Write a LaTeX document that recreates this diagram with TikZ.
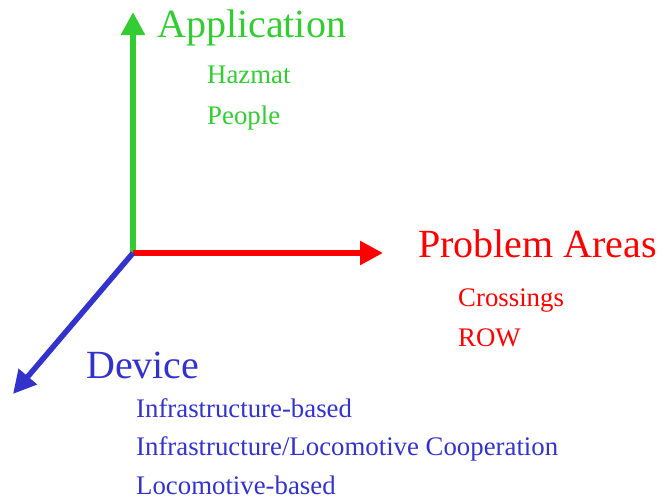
\documentclass[tikz,border=0pt]{standalone}
\usepackage{fontspec}
\setmainfont{Liberation Serif}
\usetikzlibrary{arrows.meta}
\definecolor{appgreen}{RGB}{51,204,51}
\definecolor{probred}{RGB}{255,0,0}
\definecolor{devblue}{RGB}{51,51,204}
\begin{document}
\begin{tikzpicture}[x=1pt,y=-1pt,
  axis/.style={line width=5.5pt,-{Triangle[length=23pt,width=23pt]}},
  bigtext/.style={anchor=base west,inner sep=0pt,font=\fontsize{40}{48}\selectfont},
  smalltext/.style={anchor=base west,inner sep=0pt,font=\fontsize{26.8}{32}\selectfont}]
\useasboundingbox (0,0) rectangle (659,501);
\coordinate (O) at (133,253);
\coordinate (gtip) at (133,12);
\coordinate (rtip) at (383,253);
\coordinate (btip) at (13,394);
\draw[axis,appgreen] (O) -- (gtip);
\draw[axis,probred] (O) -- (rtip);
\draw[axis,devblue] (O) -- (btip);
\node[bigtext,text=appgreen] (app) at (157,37) {Application};
\node[smalltext,text=appgreen] (haz) at (207,83) {Hazmat};
\node[smalltext,text=appgreen] (peo) at (207,124) {People};
\node[bigtext,text=probred] (prob) at (418,257) {Problem Areas};
\node[smalltext,text=probred] (cross) at (458,306) {Crossings};
\node[smalltext,text=probred] (row) at (458,346) {ROW};
\node[bigtext,text=devblue] (dev) at (86,378) {Device};
\node[smalltext,text=devblue] (ib) at (136,417) {Infrastructure-based};
\node[smalltext,text=devblue] (ilc) at (136,455) {Infrastructure/Locomotive Cooperation};
\node[smalltext,text=devblue] (lb) at (136,494) {Locomotive-based};
\end{tikzpicture}
\end{document}
